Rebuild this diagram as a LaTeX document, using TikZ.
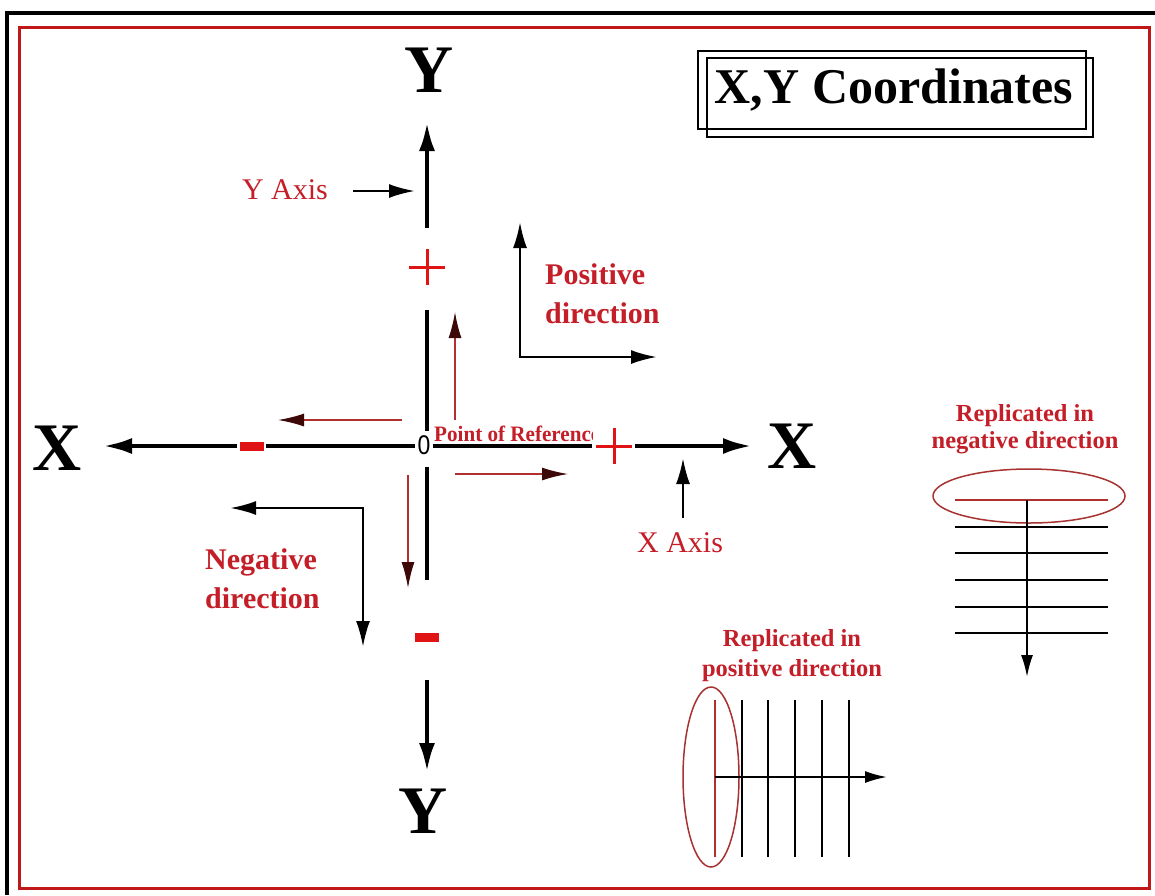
\documentclass[tikz,border=0pt]{standalone}
\usepackage{fontspec}
\setmainfont{Liberation Serif}
\newfontfamily\sansf{Liberation Sans}
\usetikzlibrary{arrows.meta}
\definecolor{txtred}{HTML}{C41E28}
\definecolor{bordred}{HTML}{C01818}
\definecolor{plusred}{HTML}{E01414}
\definecolor{arrred}{HTML}{B03030}
\definecolor{headred}{HTML}{3C0808}
\definecolor{ellred}{HTML}{A83232}
\begin{document}
\begin{tikzpicture}[x=1pt,y=-1pt,
  axisline/.style={line width=4.5pt},
  bigaxis/.style={line width=4.5pt,-{Latex[length=29pt,width=16pt]}},
  ptr/.style={line width=2.5pt,-{Latex[length=26pt,width=14pt]}},
  dblptr/.style={line width=2.5pt,{Latex[length=26pt,width=14pt]}-{Latex[length=26pt,width=14pt]}},
  redarr/.style={arrred,line width=1.6pt,-{Latex[length=26pt,width=13pt,color=headred]}},
  repline/.style={line width=2pt},
  biglet/.style={font=\bfseries\fontsize{68}{68}\selectfont,inner sep=0pt},
  lbl/.style={text=txtred,font=\bfseries\fontsize{30}{39}\selectfont,align=left,inner sep=0pt},
  axlbl/.style={text=txtred,font=\fontsize{30}{30}\selectfont,inner sep=0pt},
  replbl/.style={text=txtred,font=\bfseries\fontsize{24.5}{27}\selectfont,align=center,inner sep=0pt},
  plusnode/.style={minimum size=36pt,inner sep=0pt,
    path picture={\draw[plusred,line width=3pt]
      (path picture bounding box.north) -- (path picture bounding box.south)
      (path picture bounding box.west) -- (path picture bounding box.east);}},
  minusnode/.style={fill=plusred,minimum width=24pt,minimum height=9pt,inner sep=0pt}
]
\useasboundingbox (0,0) rectangle (1155,895);
\fill[white] (0,0) rectangle (1155,895);
% frames
\draw[line width=4pt] (7,895) -- (7,13) -- (1155,13);
\draw[bordred,line width=3pt] (19,27) rectangle (1149,888);

% title
\draw[line width=1.5pt] (698,51) rectangle (1086,129);
\draw[line width=1.5pt] (707,58) rectangle (1093,137);
\node[font=\bfseries\fontsize{50}{50}\selectfont,inner sep=0pt,anchor=base] (title) at (894,103) {X,Y Coordinates};

% big letters
\node[biglet] (Ytop) at (429,70) {Y};
\node[biglet] (Ybot) at (423,811) {Y};
\node[biglet] (Xleft) at (57,448) {X};
\node[biglet] (Xright) at (792,446) {X};

% origin
\node[font=\sansf\fontsize{27}{27}\selectfont,inner sep=0pt,xscale=0.85] (zero) at (424,445) {0};

% plus / minus marks
\node[plusnode] (plusY) at (427,267) {};
\node[plusnode] (plusX) at (614,446) {};
\node[minusnode] (minusX) at (252,446) {};
\node[minusnode] (minusY) at (426.5,637) {};

% axis coordinates
\coordinate (ytip) at (427,122);
\coordinate (y1) at (427,228);
\coordinate (y2) at (427,310);
\coordinate (y3) at (427,431);
\coordinate (y4) at (427,467);
\coordinate (y5) at (427,580);
\coordinate (y6) at (427,680);
\coordinate (ybtip) at (427,772);
\coordinate (xltip) at (103,446);
\coordinate (x1) at (237,446);
\coordinate (x2) at (266,446);
\coordinate (x3) at (415,446);
\coordinate (x4) at (433,446);
\coordinate (x5) at (592,446);
\coordinate (x6) at (635,446);
\coordinate (xrtip) at (752,446);

\draw[bigaxis] (y1) -- (ytip);
\draw[axisline] (y2) -- (y3);
\draw[axisline] (y4) -- (y5);
\draw[bigaxis] (y6) -- (ybtip);
\draw[bigaxis] (x1) -- (xltip);
\draw[axisline] (x2) -- (x3);
\draw[axisline] (x4) -- (x5);
\draw[bigaxis] (x6) -- (xrtip);

% point of reference
\begin{scope}
\clip (430,410) rectangle (592,444);
\node[text=txtred,font=\bfseries\fontsize{22}{22}\selectfont,inner sep=0pt,anchor=base west,xscale=0.96] (por) at (434,441) {Point of Reference};
\end{scope}

% red direction arrows
\coordinate (ru0) at (455,420); \coordinate (ru1) at (455,312);
\coordinate (rl0) at (402,420); \coordinate (rl1) at (278,420);
\coordinate (rr0) at (455,474); \coordinate (rr1) at (568,474);
\coordinate (rd0) at (408,475); \coordinate (rd1) at (408,588);
\draw[redarr] (ru0) -- (ru1);
\draw[redarr] (rl0) -- (rl1);
\draw[redarr] (rr0) -- (rr1);
\draw[redarr] (rd0) -- (rd1);

% Y Axis label
\node[axlbl] (yaxis) at (285,190) {Y Axis};
\coordinate (ya0) at (353,191); \coordinate (ya1) at (415,191);
\draw[ptr] (ya0) -- (ya1);

% X Axis label
\node[axlbl] (xaxis) at (680,543) {X Axis};
\coordinate (xa0) at (683,518); \coordinate (xa1) at (683,458);
\draw[ptr] (xa0) -- (xa1);

% positive direction
\coordinate (pA) at (520,222); \coordinate (pC) at (520,357); \coordinate (pB) at (657,357);
\draw[dblptr] (pA) -- (pC) -- (pB);
\node[lbl,anchor=north west] (posdir) at (545,263) {Positive\\direction};

% negative direction
\coordinate (nA) at (230,508); \coordinate (nC) at (363,508); \coordinate (nB) at (363,647);
\draw[dblptr] (nA) -- (nC) -- (nB);
\node[lbl,anchor=north west] (negdir) at (205,548) {Negative\\direction};

% replicated in negative direction
\node[replbl,anchor=north] (repneg) at (1025,404) {Replicated in\\negative direction};
\draw[ellred,line width=1.5pt] (1029,496) ellipse [x radius=96pt, y radius=27pt];
\draw[arrred,line width=2pt] (955,500) -- (1108,500);
\foreach \yy in {527,553,580,607,633} \draw[repline] (955,\yy) -- (1108,\yy);
\coordinate (nv0) at (1027,500); \coordinate (nv1) at (1027,677);
\draw[repline,-{Latex[length=22pt,width=12pt]}] (nv0) -- (nv1);

% replicated in positive direction
\node[replbl,font=\bfseries\fontsize{24.5}{30}\selectfont,anchor=north] (reppos) at (792,629) {Replicated in\\positive direction};
\draw[ellred,line width=1.5pt] (711,777) ellipse [x radius=28pt, y radius=90pt];
\draw[arrred,line width=2pt] (715,700) -- (715,857);
\foreach \xx in {742,768,795,822,849} \draw[repline] (\xx,700) -- (\xx,857);
\coordinate (ph0) at (715,777); \coordinate (ph1) at (887,777);
\draw[repline,-{Latex[length=22pt,width=12pt]}] (ph0) -- (ph1);
\end{tikzpicture}
\end{document}
